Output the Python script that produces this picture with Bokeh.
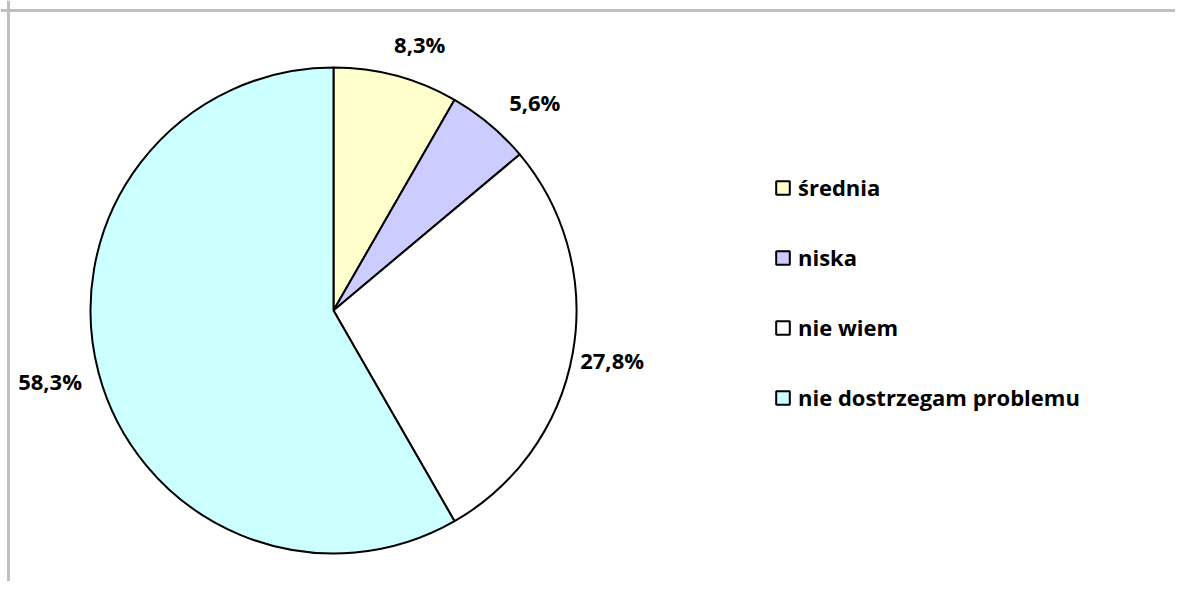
import math
from bokeh.plotting import figure
from bokeh.models import Range1d, Span, Legend, LegendItem, ColumnDataSource
from bokeh.core.properties import value
from bokeh.embed import file_html
from bokeh.resources import INLINE

categories = ["średnia", "niska", "nie wiem", "nie dostrzegam problemu"]
shares = [8.3, 5.6, 27.8, 58.3]
labels = ["8,3%", "5,6%", "27,8%", "58,3%"]
colors = ["#FFFFCC", "#CCCCFF", "#FFFFFF", "#CCFFFF"]

# layout of outside labels (angular nudge in degrees, distance from centre in px)
label_nudge_deg = [3, 4, 0, 1]
label_dist = [280, 290, 283, 292]

W, H = 1175, 581
CX, CY, R = 333, 271, 243
FONT = "Open Sans"

total = sum(shares)
starts, ends, lx, ly = [], [], [], []
cum = 0.0
for i, s in enumerate(shares):
    a0 = math.pi / 2 - 2 * math.pi * cum / total
    a1 = math.pi / 2 - 2 * math.pi * (cum + s) / total
    starts.append(a0)
    ends.append(a1)
    mid = (a0 + a1) / 2 - math.radians(label_nudge_deg[i])
    lx.append(CX + label_dist[i] * math.cos(mid))
    ly.append(CY + label_dist[i] * math.sin(mid))
    cum += s

src = ColumnDataSource(dict(lx=lx, ly=ly, lab=labels))

p = figure(width=W, height=H, output_backend="svg", toolbar_location=None,
           x_range=Range1d(0, W), y_range=Range1d(0, H), min_border=0)
p.axis.visible = False
p.grid.visible = False
p.outline_line_color = None
p.background_fill_color = "white"
p.border_fill_color = "white"

renderers = []
for i in range(len(shares)):
    r = p.wedge(x=CX, y=CY, radius=R, start_angle=starts[i], end_angle=ends[i],
                direction="clock", fill_color=colors[i], line_color="black", line_width=2)
    renderers.append(r)

p.text(x="lx", y="ly", text="lab", source=src, text_font=value(FONT),
       text_font_style="bold", text_font_size="22px", text_align="center",
       text_baseline="middle", text_color="black")

p.add_layout(Span(location=8, dimension="height", line_color="#c0c0c0", line_width=3))
p.add_layout(Span(location=H - 10, dimension="width", line_color="#c0c0c0", line_width=3))

legend = Legend(items=[LegendItem(label=categories[i], renderers=[renderers[i]]) for i in range(4)],
                location=(774, 169), glyph_width=17, glyph_height=17, label_height=17,
                spacing=40, padding=0, margin=0, label_standoff=7,
                label_text_font=FONT, label_text_font_style="bold",
                label_text_font_size="22px", label_text_color="black",
                border_line_color=None, background_fill_alpha=0)
p.add_layout(legend)

open("out.html", "w").write(file_html(p, INLINE))
